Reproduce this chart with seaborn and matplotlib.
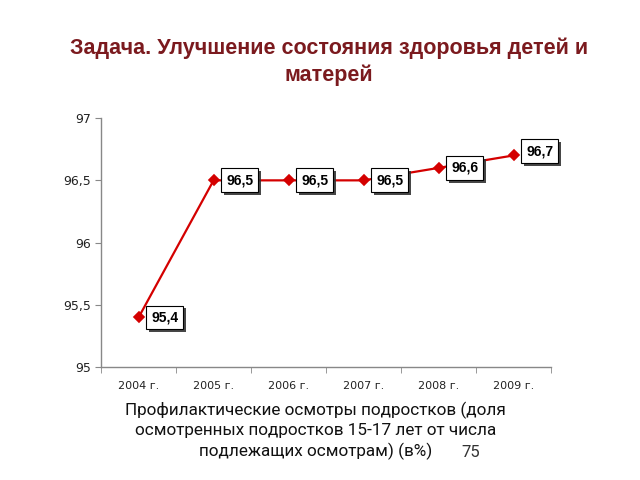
import matplotlib
matplotlib.use("Agg")
import matplotlib.pyplot as plt
import matplotlib.patheffects as pe
import seaborn as sns
import pandas as pd

years = ["2004 г.", "2005 г.", "2006 г.", "2007 г.", "2008 г.", "2009 г."]
values = [95.4, 96.5, 96.5, 96.5, 96.6, 96.7]
labels = ["95,4", "96,5", "96,5", "96,5", "96,6", "96,7"]
yticks = [95, 95.5, 96, 96.5, 97]
ytick_labels = ["95", "95,5", "96", "96,5", "97"]

title = "Задача. Улучшение состояния здоровья детей и\nматерей"
caption_lines = ["Профилактические осмотры подростков (доля",
                 "осмотренных подростков 15-17 лет от числа",
                 "подлежащих осмотрам) (в%)"]

sns.set_style("white")
plt.rcParams['font.family'] = ['Liberation Sans', 'DejaVu Sans']

fig = plt.figure(figsize=(6.4, 4.8), dpi=100)
ax = fig.add_axes([0.158, 0.235, 0.703, 0.519])

df = pd.DataFrame({"year": years, "value": values})
sns.pointplot(data=df, x="year", y="value", color="#D40000", markers="D",
              linewidth=1.6, markersize=5, ax=ax)

ax.set_ylim(95, 97)
ax.set_xlim(-0.5, 5.5)
ax.set_yticks(yticks)
ax.set_yticklabels(ytick_labels, fontsize=9, family="DejaVu Sans", color="#222222")
ax.set_xticks(range(len(years)))
ax.set_xticklabels(years, fontsize=8, family="DejaVu Sans", color="#222222")
ax.tick_params(axis='x', length=0, pad=10)
ax.tick_params(axis='y', length=4, direction='out', color='#888888', pad=3, left=True)
ax.set_xticks([i + 0.5 for i in range(-1, len(years))], minor=True)
ax.tick_params(axis='x', which='minor', length=4, direction='out', color='#888888', bottom=True)
ax.set_xlabel("")
ax.set_ylabel("")
for s in ["top", "right"]:
    ax.spines[s].set_visible(False)
for s in ["left", "bottom"]:
    ax.spines[s].set_color("#888888")
    ax.spines[s].set_linewidth(1)

for i, (v, lab) in enumerate(zip(values, labels)):
    dy = 3 if i == 5 else 0
    t = ax.annotate(lab, (i, v), xytext=(9, dy), textcoords="offset points",
                    ha="left", va="center", fontsize=10, fontweight="bold", color="black",
                    bbox=dict(boxstyle="square,pad=0.35", fc="white", ec="black", lw=0.8))
    t.get_bbox_patch().set_path_effects([
        pe.SimplePatchShadow(offset=(2, -2), shadow_rgbFace="#333333", alpha=0.9),
        pe.Normal()])

fig.text(0.514, 0.872, title, ha="center", va="center", fontsize=15.5,
         fontweight="bold", color="#7B1A1E", linespacing=1.35)
for k, line in enumerate(caption_lines):
    fig.text(0.493, 0.146 - k * 0.043, line, ha="center", va="center", fontsize=12.3,
             color="#111111", family=['Roboto', 'DejaVu Sans'])
fig.text(0.735, 0.058, "75", ha="center", va="center", fontsize=12, color="#333333",
         family=['Roboto', 'DejaVu Sans'])

fig.savefig("out.png", dpi=100)
